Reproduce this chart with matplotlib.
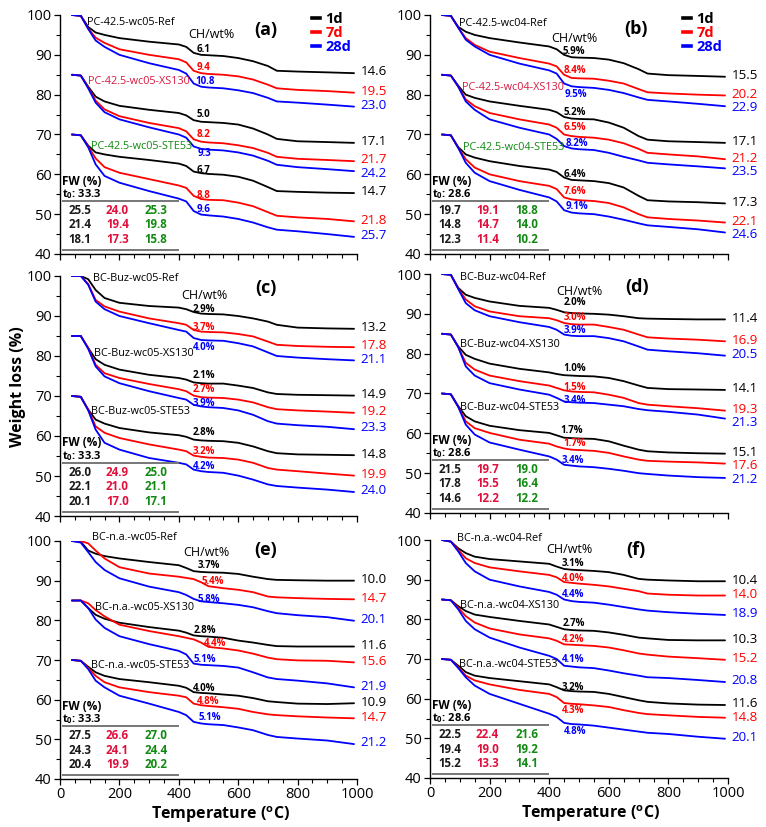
import numpy as np
import matplotlib
matplotlib.use("Agg")
import matplotlib.pyplot as plt
from matplotlib.lines import Line2D
from matplotlib.ticker import MultipleLocator

plt.rcParams['font.family'] = ['Open Sans', 'DejaVu Sans']
plt.rcParams['mathtext.fontset'] = 'custom'
plt.rcParams['mathtext.rm'] = 'Open Sans'
plt.rcParams['mathtext.bf'] = 'Open Sans:bold'

# ---------------- data ----------------
T = [40, 70, 95, 120, 150, 200, 300, 400, 425, 450, 475, 500, 550, 600, 650, 700, 730, 800, 900, 990]
AGES = ['1d', '7d', '28d']
SAMPLES = ['Ref', 'XS130', 'STE53']
PANEL_PREFIX = ['PC-42.5-wc05', 'PC-42.5-wc04', 'BC-Buz-wc05', 'BC-Buz-wc04', 'BC-n.a.-wc05', 'BC-n.a.-wc04']
PANEL_LETTER = ['(a)', '(b)', '(c)', '(d)', '(e)', '(f)']

# TG mass (%) curves, rows = 1d, 7d, 28d
A_REF = [[100, 99.8, 97.0, 95.6, 95.0, 94.2, 93.3, 92.6, 92.0, 90.5, 90.0, 89.9, 89.7, 89.2, 88.4, 87.2, 86.0, 85.8, 85.6, 85.4],
         [100, 99.8, 96.6, 94.3, 93.0, 91.4, 90.0, 88.9, 88.1, 86.0, 85.4, 85.2, 85.0, 84.6, 83.8, 82.5, 81.6, 81.2, 80.9, 80.5],
         [100, 99.8, 96.5, 93.6, 92.0, 90.0, 87.9, 86.2, 85.3, 82.8, 82.0, 81.8, 81.6, 81.1, 80.4, 79.2, 78.3, 78.0, 77.5, 77.0]]
A_XS = [[100, 99.8, 97.0, 94.5, 93.3, 92.2, 91.2, 90.4, 89.8, 88.6, 88.2, 88.1, 87.9, 87.5, 86.5, 85.0, 83.9, 83.3, 83.1, 82.9],
        [100, 99.8, 96.8, 93.5, 91.3, 89.6, 87.9, 86.6, 85.8, 83.8, 83.2, 83.0, 82.8, 82.3, 81.6, 80.4, 79.4, 78.9, 78.6, 78.3],
        [100, 99.8, 96.6, 93.0, 90.6, 88.8, 86.8, 85.0, 84.2, 82.0, 81.4, 81.2, 81.0, 80.5, 79.7, 78.4, 77.4, 76.8, 76.3, 75.8]]
A_STE = [[100, 99.8, 97.2, 95.5, 95.0, 94.4, 93.6, 92.7, 92.1, 90.7, 90.3, 90.1, 89.9, 89.4, 88.4, 86.8, 85.8, 85.6, 85.4, 85.3],
         [100, 99.8, 97.0, 94.0, 91.8, 90.4, 88.8, 87.2, 86.6, 84.6, 83.8, 83.6, 83.5, 82.9, 82.0, 80.5, 79.6, 79.2, 78.8, 78.2],
         [100, 99.8, 96.8, 92.5, 89.6, 87.9, 85.8, 83.9, 83.2, 80.8, 79.9, 79.7, 79.4, 78.8, 77.9, 76.7, 76.1, 75.7, 75.0, 74.3]]

B_REF = [[100, 99.8, 97.0, 95.8, 95.0, 94.2, 93.1, 92.1, 91.4, 90.0, 89.4, 89.3, 89.2, 88.8, 87.9, 86.4, 85.3, 84.9, 84.7, 84.5],
         [100, 99.8, 96.8, 94.2, 92.5, 90.8, 89.2, 87.8, 87.1, 85.0, 84.2, 84.1, 84.0, 83.5, 82.8, 81.4, 80.6, 80.3, 80.0, 79.8],
         [100, 99.8, 96.8, 93.8, 92.1, 90.0, 87.8, 86.1, 85.3, 82.8, 82.1, 81.9, 81.7, 81.2, 80.4, 79.3, 78.7, 78.3, 77.7, 77.1]]
B_XS = [[100, 99.8, 97.2, 95.0, 94.2, 93.3, 92.2, 91.2, 90.6, 89.4, 89.0, 88.9, 88.8, 88.0, 86.7, 84.6, 83.7, 83.3, 83.1, 82.9],
        [100, 99.8, 97.0, 93.8, 92.1, 90.4, 88.8, 87.5, 86.7, 85.0, 84.6, 84.4, 84.2, 83.7, 82.8, 81.4, 80.4, 80.0, 79.5, 78.8],
        [100, 99.8, 97.0, 93.3, 91.2, 88.8, 86.7, 85.0, 83.9, 82.1, 81.5, 81.3, 81.1, 80.4, 79.4, 78.5, 77.9, 77.5, 77.0, 76.5]]
B_STE = [[100, 99.8, 96.8, 95.0, 94.2, 93.3, 92.1, 91.2, 90.6, 89.2, 88.6, 88.5, 88.3, 87.8, 86.7, 84.6, 83.5, 83.2, 83.0, 82.7],
         [100, 99.8, 96.6, 93.8, 91.7, 90.0, 88.3, 87.1, 86.3, 84.2, 83.7, 83.5, 83.3, 82.8, 81.7, 80.0, 79.2, 78.8, 78.4, 77.9],
         [100, 99.8, 96.6, 92.9, 90.4, 88.3, 86.1, 84.2, 83.2, 81.0, 80.4, 80.2, 80.0, 79.4, 78.6, 77.7, 77.2, 76.8, 76.2, 75.4]]

C_REF = [[100, 100, 99.2, 96.5, 94.5, 93.3, 92.5, 92.1, 91.7, 91.0, 90.6, 90.5, 90.4, 90.0, 89.4, 88.6, 87.8, 87.1, 86.9, 86.8],
         [100, 100, 98.0, 94.0, 92.4, 91.1, 89.4, 88.2, 87.8, 86.5, 86.1, 86.0, 85.9, 85.5, 84.9, 83.6, 82.8, 82.5, 82.3, 82.2],
         [100, 100, 97.8, 93.6, 91.7, 90.0, 88.2, 86.5, 86.1, 84.5, 84.0, 83.9, 83.8, 83.2, 82.4, 80.9, 80.0, 79.6, 79.2, 78.9]]
C_XS = [[100, 100, 97.0, 94.2, 92.8, 91.6, 90.3, 89.5, 89.1, 88.4, 88.2, 88.1, 88.1, 87.6, 87.0, 85.9, 85.5, 85.3, 85.2, 85.1],
        [100, 100, 97.0, 92.8, 90.7, 89.5, 88.0, 86.7, 86.2, 85.1, 84.7, 84.6, 84.5, 84.1, 83.4, 82.2, 81.7, 81.4, 81.1, 80.8],
        [100, 100, 96.8, 92.4, 89.9, 88.2, 86.2, 84.5, 84.1, 82.8, 82.4, 82.2, 82.0, 81.4, 80.3, 78.7, 78.1, 77.7, 77.3, 76.7]]
C_STE = [[100, 99.8, 96.6, 94.1, 93.1, 92.0, 90.9, 90.2, 89.8, 89.1, 88.9, 88.8, 88.7, 88.3, 87.4, 86.2, 85.7, 85.4, 85.3, 85.2],
         [100, 99.8, 96.6, 92.4, 90.8, 89.5, 87.9, 86.6, 86.2, 85.1, 84.8, 84.6, 84.5, 84.1, 83.3, 82.0, 81.6, 81.2, 80.6, 80.1],
         [100, 99.8, 96.4, 91.6, 88.3, 86.6, 84.5, 83.3, 82.9, 81.6, 81.2, 81.0, 80.8, 80.1, 79.1, 77.9, 77.5, 77.1, 76.6, 76.0]]

D_REF = [[100, 99.8, 96.5, 94.8, 94.0, 93.1, 92.0, 91.5, 91.0, 90.4, 90.2, 90.1, 90.0, 89.8, 89.4, 88.9, 88.8, 88.7, 88.6, 88.6],
         [100, 99.8, 96.3, 93.6, 91.9, 90.6, 89.4, 88.9, 88.4, 87.7, 87.4, 87.3, 87.3, 86.7, 86.0, 84.8, 84.1, 83.8, 83.5, 83.1],
         [100, 99.8, 96.2, 92.7, 90.9, 89.4, 87.9, 86.7, 86.0, 84.8, 84.5, 84.4, 84.4, 83.9, 83.1, 81.8, 81.0, 80.6, 80.1, 79.5]]
D_XS = [[100, 99.8, 96.8, 94.7, 93.7, 92.5, 91.2, 90.3, 89.9, 89.6, 89.5, 89.4, 89.3, 88.9, 88.1, 87.0, 86.4, 86.1, 86.0, 85.9],
        [100, 99.8, 96.6, 92.7, 91.0, 89.5, 88.1, 87.0, 86.4, 85.8, 85.5, 85.4, 85.3, 84.7, 83.9, 82.6, 82.2, 81.8, 81.3, 80.7],
        [100, 99.8, 96.6, 91.8, 89.5, 87.6, 86.0, 84.7, 83.9, 83.0, 82.8, 82.7, 82.6, 82.2, 81.8, 81.1, 80.8, 80.4, 79.7, 78.7]]
D_STE = [[100, 99.8, 96.8, 94.3, 93.0, 91.9, 90.8, 90.1, 89.5, 88.9, 88.8, 88.7, 88.6, 88.0, 86.9, 85.9, 85.5, 85.2, 85.0, 84.9],
         [100, 99.8, 96.6, 93.0, 91.3, 90.1, 88.4, 87.4, 86.7, 86.2, 85.9, 85.8, 85.6, 85.1, 84.2, 83.4, 83.1, 82.9, 82.7, 82.4],
         [100, 99.8, 96.6, 92.2, 89.7, 87.7, 85.9, 84.2, 83.4, 82.1, 81.9, 81.7, 81.5, 81.1, 80.6, 80.0, 79.8, 79.4, 79.0, 78.8]]

E_REF = [[100, 99.8, 97.6, 96.8, 96.2, 95.6, 94.7, 93.9, 93.2, 92.4, 92.2, 92.1, 92.0, 91.7, 91.0, 90.4, 90.2, 90.1, 90.0, 90.0],
         [100, 100, 99.4, 97.6, 95.6, 93.4, 91.8, 91.0, 90.7, 90.4, 89.6, 88.6, 88.1, 87.7, 87.1, 86.0, 85.8, 85.6, 85.4, 85.3],
         [100, 99.6, 97.2, 94.7, 92.7, 90.6, 88.5, 87.1, 86.4, 85.4, 84.8, 84.6, 84.3, 83.9, 83.3, 82.3, 81.8, 81.3, 80.8, 79.9]]
E_XS = [[100, 100, 98.1, 96.4, 95.4, 94.4, 93.3, 92.4, 91.9, 91.2, 91.0, 90.9, 90.6, 89.9, 89.4, 88.8, 88.5, 88.4, 88.4, 88.4],
        [100, 100, 99.3, 97.6, 96.0, 93.9, 92.3, 91.0, 90.6, 90.2, 89.4, 88.3, 87.9, 87.4, 86.6, 85.6, 85.2, 84.9, 84.8, 84.4],
        [100, 100, 98.1, 95.2, 93.1, 91.0, 89.0, 87.3, 86.4, 84.1, 83.8, 83.7, 83.5, 83.1, 81.9, 80.6, 80.2, 79.8, 79.1, 78.1]]
E_STE = [[100, 99.8, 98.3, 96.9, 96.0, 95.2, 94.4, 93.5, 93.0, 91.9, 91.7, 91.6, 91.3, 91.0, 90.4, 89.6, 89.4, 89.0, 88.9, 89.1],
         [100, 99.8, 98.0, 96.0, 94.4, 93.1, 91.9, 91.0, 90.6, 89.0, 88.6, 88.4, 88.1, 87.7, 86.9, 86.3, 86.1, 85.8, 85.5, 85.3],
         [100, 99.8, 97.7, 94.8, 93.1, 91.0, 89.0, 86.9, 86.1, 84.4, 84.0, 83.8, 83.6, 83.0, 82.3, 81.1, 80.6, 80.2, 79.7, 78.8]]

F_REF = [[100, 99.6, 97.9, 96.7, 95.8, 95.2, 94.6, 94.0, 93.3, 92.7, 92.5, 92.4, 92.2, 91.9, 91.2, 90.2, 90.0, 89.8, 89.6, 89.6],
         [100, 99.6, 97.5, 95.4, 94.2, 93.1, 92.1, 91.2, 90.6, 89.4, 89.2, 89.0, 88.7, 88.3, 87.7, 87.1, 86.5, 86.2, 86.0, 86.0],
         [100, 99.6, 97.1, 94.2, 92.1, 90.0, 88.3, 86.9, 86.2, 85.0, 84.6, 84.4, 84.2, 83.7, 83.1, 82.5, 82.2, 81.8, 81.4, 81.1]]
F_XS = [[100, 99.8, 98.3, 97.1, 96.2, 95.6, 94.6, 93.7, 93.1, 92.5, 92.3, 92.2, 92.1, 91.7, 91.1, 90.4, 90.2, 89.8, 89.7, 89.7],
        [100, 99.8, 97.9, 95.8, 94.2, 92.7, 91.2, 90.2, 89.6, 88.7, 88.6, 88.5, 88.3, 87.9, 87.2, 86.4, 86.1, 85.6, 85.2, 84.8],
        [100, 99.8, 97.5, 94.6, 92.5, 90.4, 87.9, 85.8, 85.0, 83.3, 83.1, 82.9, 82.7, 82.1, 81.4, 80.8, 80.4, 80.2, 79.7, 79.2]]
F_STE = [[100, 99.8, 98.3, 96.7, 95.8, 95.2, 94.4, 93.6, 92.9, 92.1, 91.9, 91.8, 91.7, 91.2, 90.4, 89.6, 89.2, 88.8, 88.5, 88.4],
         [100, 99.8, 97.9, 95.8, 94.6, 93.6, 92.2, 91.2, 90.4, 88.9, 88.7, 88.6, 88.3, 87.9, 87.1, 86.4, 86.1, 85.8, 85.4, 85.2],
         [100, 99.8, 97.7, 95.4, 93.3, 91.2, 88.7, 86.2, 85.4, 83.9, 83.6, 83.5, 83.2, 82.7, 82.2, 81.7, 81.4, 81.1, 80.4, 79.9]]

# total weight loss labels (%), rows = Ref, XS130, STE53; cols = 1d, 7d, 28d
LOSS_A = [[14.6, 19.5, 23.0], [17.1, 21.7, 24.2], [14.7, 21.8, 25.7]]
LOSS_B = [[15.5, 20.2, 22.9], [17.1, 21.2, 23.5], [17.3, 22.1, 24.6]]
LOSS_C = [[13.2, 17.8, 21.1], [14.9, 19.2, 23.3], [14.8, 19.9, 24.0]]
LOSS_D = [[11.4, 16.9, 20.5], [14.1, 19.3, 21.3], [15.1, 17.6, 21.2]]
LOSS_E = [[10.0, 14.7, 20.1], [11.6, 15.6, 21.9], [10.9, 14.7, 21.2]]
LOSS_F = [[10.4, 14.0, 18.9], [10.3, 15.2, 20.8], [11.6, 14.8, 20.1]]

# CH content (wt%)
CH_A = [[6.1, 9.4, 10.8], [5.0, 8.2, 9.3], [6.7, 8.8, 9.6]]
CH_B = [[5.9, 8.4, 9.5], [5.2, 6.5, 8.2], [6.4, 7.6, 9.1]]
CH_C = [[2.9, 3.7, 4.0], [2.1, 2.7, 3.9], [2.8, 3.2, 4.2]]
CH_D = [[2.0, 3.0, 3.9], [1.0, 1.5, 3.4], [1.7, 1.7, 3.4]]
CH_E = [[3.7, 5.4, 5.8], [2.8, 4.4, 5.1], [4.0, 4.8, 5.1]]
CH_F = [[3.1, 4.0, 4.4], [2.7, 4.2, 4.1], [3.2, 4.3, 4.8]]

# free water table: rows = 1d, 7d, 28d; cols = Ref, XS130, STE53
FW_A = [[25.5, 24.0, 25.3], [21.4, 19.4, 19.8], [18.1, 17.3, 15.8]]
FW_B = [[19.7, 19.1, 18.8], [14.8, 14.7, 14.0], [12.3, 11.4, 10.2]]
FW_C = [[26.0, 24.9, 25.0], [22.1, 21.0, 21.1], [20.1, 17.0, 17.1]]
FW_D = [[21.5, 19.7, 19.0], [17.8, 15.5, 16.4], [14.6, 12.2, 12.2]]
FW_E = [[27.5, 26.6, 27.0], [24.3, 24.1, 24.4], [20.4, 19.9, 20.2]]
FW_F = [[22.5, 22.4, 21.6], [19.4, 19.0, 19.2], [15.2, 13.3, 14.1]]
T0 = [33.3, 28.6, 33.3, 28.6, 33.3, 28.6]

OFFSETS = [0, 15, 30]   # vertical shift of the sample groups

# ---------------- styling / layout ----------------
LINE_COLORS = ['black', '#FF0000', '#0000FF']
TABLE_COLORS = ['#1a1a1a', '#E0103C', '#118A11']
PX_W, PX_H = 766, 827
AX_PX = [(60, 15, 357, 254), (430, 15, 728, 254),
         (60, 276, 357, 516), (430, 274, 728, 513),
         (60, 541, 357, 779), (430, 540, 728, 778)]
NAME_POS = [[(90, 98.1), (95, 83.3), (103, 67.1)],
            [(97, 97.9), (106, 81.9), (112, 66.7)],
            [(112, 99.4), (115, 80.7), (103, 66.2)],
            [(101, 99.0), (101, 82.3), (101, 66.6)],
            [(108, 100.8), (117, 83.3), (103, 68.5)],
            [(92, 100.5), (101, 83.5), (98, 68.6)]]
NAME_COLORS = [['black', '#D81B40', '#118A11'], ['black', '#D81B40', '#118A11']] + [['black'] * 3] * 4
CHWT_POS = [(508, 95.0), (484, 94.2), (485, 95.0), (501, 95.6), (494, 97.2), (467, 97.5)]
LETTER_POS = [(694, 96.2), (691, 96.4), (694, 96.9), (695, 96.7), (694, 97.7), (690, 97.6)]
# CH label anchor (temperature, plotted height) per panel, per sample group, per age
CH_POS = [
    [[(483, 91.4), (483, 86.7), (489, 83.3)], [(483, 75.0), (483, 70.0), (485, 65.25)], [(483, 61.0), (483, 54.75), (483, 51.25)]],
    [[(481, 90.8), (485, 86.0), (490, 80.0)], [(485, 75.4), (485, 71.7), (493, 67.75)], [(485, 60.0), (485, 55.6), (493, 51.9)]],
    [[(485, 91.7), (485, 87.2), (485, 82.0)], [(485, 75.1), (485, 71.6), (485, 68.2)], [(485, 60.8), (485, 56.2), (485, 52.3)]],
    [[(485, 92.9), (485, 89.0), (485, 85.8)], [(485, 76.2), (485, 71.6), (485, 68.2)], [(476, 60.75), (485, 57.4), (481, 53.2)]],
    [[(500, 93.7), (514, 89.9), (500, 85.2)], [(489, 77.4), (523, 74.1), (486, 70.2)], [(486, 62.9), (500, 59.55), (503, 55.4)]],
    [[(481, 94.2), (481, 90.4), (481, 86.25)], [(481, 78.9), (481, 75.0), (481, 69.75)], [(481, 62.9), (481, 57.1), (487, 51.7)]],
]
CH_PCT = [False, True, True, True, True, True]
LOSS_GAP = 3.4

panels = [
    (A_REF, A_XS, A_STE, LOSS_A, CH_A, FW_A),
    (B_REF, B_XS, B_STE, LOSS_B, CH_B, FW_B),
    (C_REF, C_XS, C_STE, LOSS_C, CH_C, FW_C),
    (D_REF, D_XS, D_STE, LOSS_D, CH_D, FW_D),
    (E_REF, E_XS, E_STE, LOSS_E, CH_E, FW_E),
    (F_REF, F_XS, F_STE, LOSS_F, CH_F, FW_F),
]

fig = plt.figure(figsize=(PX_W / 100, PX_H / 100), dpi=100)

for p, (ref, xs, ste, loss, ch, fw) in enumerate(panels):
    l, t, r, b = AX_PX[p]
    ax = fig.add_axes([l / PX_W, 1 - b / PX_H, (r - l) / PX_W, (b - t) / PX_H])
    ax.set_xlim(0, 1000)
    ax.set_ylim(40, 100)
    for s in ['top', 'right']:
        ax.spines[s].set_visible(False)
    for s in ['left', 'bottom']:
        ax.spines[s].set_linewidth(1.0)
    ax.yaxis.set_major_locator(MultipleLocator(10))
    ax.yaxis.set_minor_locator(MultipleLocator(5))
    ax.xaxis.set_major_locator(MultipleLocator(200))
    ax.xaxis.set_minor_locator(MultipleLocator(50))
    ax.tick_params(which='major', direction='out', length=4, width=0.9, labelsize=10.5, pad=2)
    ax.tick_params(which='minor', direction='out', length=3, width=0.8)
    if p < 4:
        ax.tick_params(labelbottom=False)
    else:
        ax.set_xlabel(r'Temperature ($\mathbf{^o}$C)', fontsize=11.5, fontweight='bold')
        ax.xaxis.set_label_coords(0.54, -0.105)

    groups = [ref, xs, ste]
    for g, grp in enumerate(groups):
        off = OFFSETS[g]
        prev_label = None
        for k, curve in enumerate(grp):
            y = np.array(curve) - off
            ax.plot(T, y, color=LINE_COLORS[k], lw=1.3, solid_capstyle='round')
            # final loss label, kept apart from the one above it
            ly = y[-1] + 0.3
            if prev_label is not None:
                ly = min(ly, prev_label - LOSS_GAP)
            prev_label = ly
            ax.text(1012, ly, f'{loss[g][k]:.1f}', color=LINE_COLORS[k], fontsize=9.6,
                    ha='left', va='center', clip_on=False)
            # CH label
            cx, cy = CH_POS[p][g][k]
            txt = f'{ch[g][k]:.1f}%' if CH_PCT[p] else f'{ch[g][k]:.1f}'
            ax.text(cx, cy, txt, color=LINE_COLORS[k], fontsize=7, fontweight='bold',
                    ha='center', va='center')
        # sample name
        nx, ny = NAME_POS[p][g]
        ax.text(nx, ny, f'{PANEL_PREFIX[p]}-{SAMPLES[g]}', color=NAME_COLORS[p][g],
                fontsize=7.8, ha='left', va='center', clip_on=False)

    ax.text(*CHWT_POS[p], 'CH/wt%', fontsize=9, ha='center', va='center')
    ax.text(*LETTER_POS[p], PANEL_LETTER[p], fontsize=13, fontweight='bold', ha='center', va='center')

    # free water table
    ax.text(8, 58.3, 'FW (%)', fontsize=8.5, fontweight='bold', ha='left', va='center')
    ax.text(8, 55.0, r't$_\mathbf{0}$: ' + f'{T0[p]:.1f}', fontsize=8, fontweight='bold',
            ha='left', va='center')
    ax.plot([9, 396], [53.3, 53.3], color='#777777', lw=1.4)
    ax.plot([9, 396], [41.1, 41.1], color='#777777', lw=1.4)
    rows_y = [51.0, 47.3, 43.6]
    cols_x = [67, 193, 324]
    for i in range(3):
        for j in range(3):
            ax.text(cols_x[j], rows_y[i], f'{fw[i][j]:.1f}', color=TABLE_COLORS[j],
                    fontsize=8.3, fontweight='bold', ha='center', va='center')

    if p < 2:
        handles = [Line2D([], [], color=c, lw=2.6) for c in LINE_COLORS]
        ax.legend(handles, AGES, loc='upper right', bbox_to_anchor=(1.0, 1.035), frameon=False,
                  handlelength=0.55, handletextpad=0.35, labelspacing=0.0, borderaxespad=0,
                  labelcolor=LINE_COLORS, prop={'weight': 'bold', 'size': 10.5})

fig.text(0.024, 0.532, 'Weight loss (%)', rotation=90, fontsize=11.5, fontweight='bold',
         ha='center', va='center')

fig.savefig('out.png', dpi=100)
